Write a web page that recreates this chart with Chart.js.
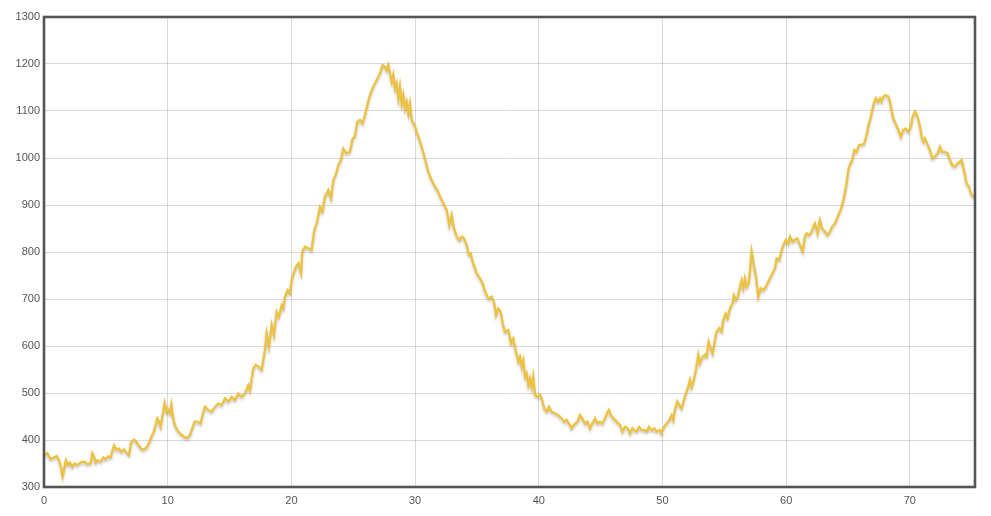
<!DOCTYPE html>
<html>
<head>
<meta charset="utf-8">
<script src="https://cdn.jsdelivr.net/npm/chart.js@4/dist/chart.umd.min.js"></script>
<style>
  html, body { margin: 0; padding: 0; background: #ffffff; }
  #wrap { width: 991px; height: 516px; }
</style>
</head>
<body>
<div id="wrap"><canvas id="c" width="991" height="516"></canvas></div>
<script>
// x positions of the points
const xValues = [
  0,0.27,0.54,0.81,1.02,1.21,1.40,1.51,1.67,1.78,1.94,2.10,2.29,2.48,2.70,2.96,3.23,3.50,3.77,3.91,4.04,4.18,4.31,4.58,4.80,4.99,5.18,5.39,5.66,5.88,6.06,6.25,6.47,6.68,6.87,7.06,7.28,7.49,7.68,7.95,8.22,8.49,8.68,8.89,9.03,9.16,9.30,9.43,9.57,9.76,9.92,10.03,10.19,10.30,10.40,10.57,10.78,11.05,11.32,11.59,11.81,11.99,12.18,12.40,12.67,
  12.75,13.02,13.29,13.56,13.83,14.10,14.37,14.64,14.91,15.17,15.44,15.71,15.98,16.25,16.52,16.66,16.93,17.12,17.33,17.60,17.87,18.00,18.19,18.41,18.60,18.81,19.00,19.22,19.35,19.49,19.70,19.89,20.03,20.22,20.38,20.57,20.78,20.89,21.10,21.37,21.64,21.86,22.05,22.32,22.51,22.72,22.99,23.21,23.40,
  23.60,23.80,24.00,24.20,24.45,
  24.74,24.96,25.14,25.33,25.55,25.76,25.95,26.14,26.36,26.63,26.90,27.17,27.38,27.57,27.70,27.84,27.97,28.11,28.24,28.38,28.51,28.65,28.78,28.92,29.05,29.19,29.32,29.46,29.59,29.73,30.00,30.27,30.54,30.80,31.07,31.34,31.61,31.80,32.02,32.29,32.56,32.77,32.96,33.15,33.37,33.58,33.77,33.96,34.17,34.36,34.50,34.66,34.85,34.98,35.25,35.47,35.66,35.93,36.20,36.38,36.55,36.73,36.92,37.09,
  37.27,37.54,37.76,37.94,38.13,38.35,38.48,38.62,38.75,38.89,39.02,39.16,39.29,39.43,39.56,39.70,39.91,40.10,40.23,40.45,40.64,40.83,41.04,41.31,41.58,41.85,42.07,42.26,42.45,42.66,42.93,43.15,43.33,43.52,43.74,43.95,44.14,44.33,44.55,44.76,44.95,45.14,45.36,45.57,45.68,45.84,46.03,46.30,46.57,46.76,46.97,47.19,47.38,47.57,47.73,47.92,48.11,48.32,48.54,48.73,48.91,49.13,49.35,49.53,49.72,
  49.80,49.93,50.12,50.34,50.55,50.74,50.88,51.01,51.20,51.36,51.55,51.74,51.90,52.09,52.23,52.36,52.50,52.71,52.90,53.03,53.25,53.44,53.57,53.74,53.90,54.06,54.25,54.38,54.60,54.79,54.92,55.11,55.27,55.46,55.68,55.78,55.95,56.11,56.27,56.40,56.54,56.67,56.81,56.97,57.08,57.21,57.40,57.56,57.75,57.94,58.16,58.37,58.56,58.83,59.10,59.23,59.45,59.64,59.83,59.99,60.18,60.31,60.53,60.72,60.91,61.12,61.34,61.52,61.66,61.88,62.06,62.25,
  62.33,62.55,62.73,62.92,63.14,63.35,63.54,63.73,63.95,64.16,64.35,64.49,64.70,64.89,65.03,65.21,65.35,65.51,65.70,65.89,66.10,66.32,66.51,66.70,66.86,66.97,67.13,67.24,67.40,67.59,67.72,67.86,68.04,68.26,68.39,68.53,68.66,68.85,69.07,69.28,69.47,69.66,69.88,70.09,70.23,70.42,70.63,70.82,70.96,71.09,71.22,71.44,71.63,71.82,72.03,72.25,72.44,72.63,72.84,73.06,73.25,73.43,73.65,73.87,74.05,74.19,74.41,74.59,74.78,74.94,75.13,75.27
];
// series values (same order as xValues)
const yValues = [
  368,372,359,363,366,357,340,323,343,357,347,352,343,350,347,352,354,349,350,372,365,352,357,354,363,359,365,363,389,379,382,375,380,373,368,396,401,396,387,379,382,393,407,418,432,446,439,428,450,479,460,465,457,475,453,432,421,413,407,404,411,425,439,439,435,
  446,471,464,460,471,478,474,489,482,492,485,499,492,499,517,506,553,560,556,549,592,627,599,645,623,673,662,687,680,705,719,712,740,758,769,776,755,801,811,808,804,847,861,896,886,918,932,914,953,
  965,985,995,1020,1010,
  1013,1042,1045,1077,1081,1074,1091,1113,1134,1152,1166,1180,1198,1194,1187,1198,1180,1162,1177,1148,1159,1127,1152,1116,1134,1106,1120,1095,1116,1081,1067,1045,1024,999,971,953,939,932,918,904,889,857,879,850,833,825,833,829,815,794,797,779,765,755,744,733,716,701,705,694,666,680,673,648,
  630,634,606,616,591,567,577,556,570,535,542,517,531,513,535,496,492,496,489,467,460,471,460,457,453,446,439,443,435,425,435,439,453,446,435,439,425,435,446,435,439,435,446,460,464,453,446,439,432,418,428,425,414,425,421,418,428,421,421,418,428,421,425,418,421,
  421,414,428,435,442,453,442,464,482,475,467,485,499,513,528,513,524,549,581,563,577,581,577,609,595,584,613,631,638,631,655,669,659,680,691,708,698,705,726,740,723,744,726,733,758,801,772,748,705,723,719,726,737,751,765,786,783,804,818,826,818,833,822,826,829,815,801,833,840,836,843,857,
  861,840,868,850,843,836,843,854,861,875,886,896,918,946,975,989,996,1017,1013,1028,1028,1031,1049,1074,1088,1102,1120,1127,1120,1127,1120,1131,1134,1131,1120,1102,1084,1074,1060,1045,1060,1063,1056,1067,1088,1099,1088,1067,1045,1035,1042,1028,1017,999,1003,1010,1024,1013,1013,1010,996,985,982,989,992,996,971,946,939,925,918,921
];
// tick labels
const xTicks = [0, 10, 20, 30, 40, 50, 60, 70];
const yTicks = [300, 400, 500, 600, 700, 800, 900, 1000, 1100, 1200, 1300];

const points = xValues.map((x, i) => ({ x: x, y: yValues[i] }));

const shadowPlugin = {
  id: 'lineShadow',
  beforeDatasetDraw(chart) {
    const ctx = chart.ctx;
    ctx.save();
    ctx.shadowColor = 'rgba(0,0,0,0.22)';
    ctx.shadowBlur = 2.5;
    ctx.shadowOffsetX = 0;
    ctx.shadowOffsetY = 2;
  },
  afterDatasetDraw(chart) {
    chart.ctx.restore();
  }
};

const borderPlugin = {
  id: 'plotBorder',
  afterDraw(chart) {
    const a = chart.chartArea;
    const ctx = chart.ctx;
    ctx.save();
    ctx.strokeStyle = '#545454';
    ctx.lineWidth = 2.6;
    ctx.strokeRect(a.left, a.top, a.right - a.left, a.bottom - a.top);
    ctx.restore();
  }
};

const tickFont = { family: '"Liberation Sans", Arial, sans-serif', size: 11 };

new Chart(document.getElementById('c'), {
  type: 'line',
  data: {
    datasets: [{
      data: points,
      borderColor: '#edc240',
      borderWidth: 2.3,
      pointRadius: 0,
      tension: 0,
      fill: false
    }]
  },
  options: {
    responsive: false,
    animation: false,
    events: [],
    layout: { padding: { top: 17, right: 16, left: 0, bottom: 0 } },
    plugins: { legend: { display: false }, tooltip: { enabled: false } },
    scales: {
      x: {
        type: 'linear',
        min: xTicks[0],
        max: xValues[xValues.length - 1],
        afterBuildTicks(scale) { scale.ticks = xTicks.map(v => ({ value: v })); },
        afterFit(scale) { scale.height = 29; },
        grid: { color: 'rgba(0,0,0,0.15)', lineWidth: 1, drawTicks: false },
        border: { display: false },
        ticks: {
          color: '#545454',
          padding: 7,
          maxRotation: 0,
          font: tickFont,
          callback: v => String(v)
        }
      },
      y: {
        type: 'linear',
        min: yTicks[0],
        max: yTicks[yTicks.length - 1],
        afterBuildTicks(scale) { scale.ticks = yTicks.map(v => ({ value: v })); },
        afterFit(scale) { scale.width = 44; },
        grid: { color: 'rgba(0,0,0,0.15)', lineWidth: 1, drawTicks: false },
        border: { display: false },
        ticks: {
          color: '#545454',
          padding: 4,
          font: tickFont,
          callback: v => String(v)
        }
      }
    }
  },
  plugins: [shadowPlugin, borderPlugin]
});
</script>
</body>
</html>
